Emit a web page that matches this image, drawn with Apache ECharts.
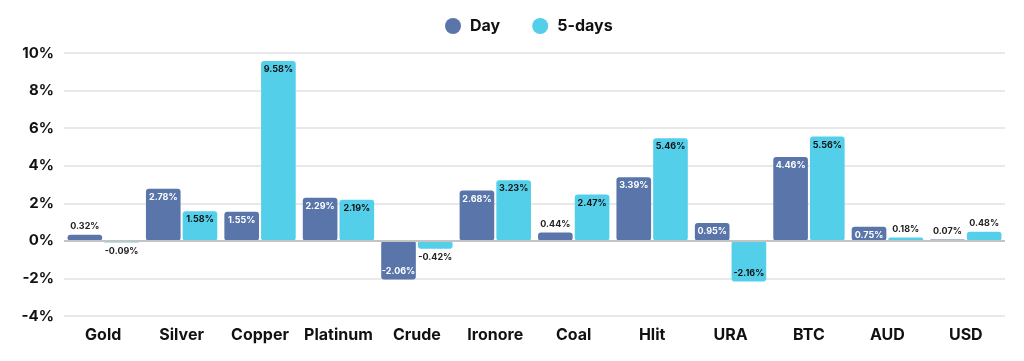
<!DOCTYPE html>
<html><head><meta charset="utf-8">
<script src="https://cdn.jsdelivr.net/npm/echarts@6/dist/echarts.min.js"></script>
<style>html,body{margin:0;padding:0;background:#fff}#c{width:1024px;height:361px}</style>
</head><body><div id="c"></div>
<script>
var categories = ['Gold','Silver','Copper','Platinum','Crude','Ironore','Coal','Hlit','URA','BTC','AUD','USD'];
var dayValues = [0.32, 2.78, 1.55, 2.29, -2.06, 2.68, 0.44, 3.39, 0.95, 4.46, 0.75, 0.07];
var fiveDayValues = [-0.09, 1.58, 9.58, 2.19, -0.42, 3.23, 2.47, 5.46, -2.16, 5.56, 0.18, 0.48];
var seriesNames = ['Day', '5-days'];
var FONT = 'Inter, "Open Sans", sans-serif';
var DAY_COLOR = '#5a75aa', FIVE_COLOR = '#54cfea';

function items(vals, insideColor) {
  return vals.map(function (v) {
    var small = Math.abs(v) < 0.6;
    var pos = v >= 0 ? (small ? 'top' : 'insideTop') : (small ? 'bottom' : 'insideBottom');
    return { value: v, label: { position: pos, color: small ? '#222' : insideColor } };
  });
}
var chart = echarts.init(document.getElementById('c'));
var labelBase = { show: true, fontFamily: FONT, fontWeight: 'bold', fontSize: 9, distance: 4,
  formatter: function (p) { return p.value.toFixed(2) + '%'; } };
chart.setOption({
  animation: false,
  legend: { top: 13, left: 440, icon: 'circle', itemWidth: 16, itemHeight: 16, itemGap: 32,
    textStyle: { fontFamily: FONT, fontWeight: 'bold', fontSize: 16, color: '#111', padding: [0, 0, 0, 4] }, data: seriesNames },
  grid: { left: 64, right: 19, top: 53, bottom: 45 },
  xAxis: { type: 'category', data: categories,
    axisLine: { show: false }, axisTick: { show: false },
    axisLabel: { interval: 0, fontFamily: FONT, fontWeight: 'bold', fontSize: 16, color: '#111', margin: 11 } },
  yAxis: { type: 'value', min: -4, max: 10, interval: 2,
    axisLabel: { formatter: '{value}%', fontFamily: FONT, fontWeight: 'bold', fontSize: 15, color: '#111', margin: 10 },
    splitLine: { lineStyle: { color: '#e2e2e2', width: 1.5 } } },
  series: [
    { name: seriesNames[0], type: 'bar', data: items(dayValues, '#fff'), barGap: '6%', barCategoryGap: '9%',
      itemStyle: { color: DAY_COLOR, borderRadius: 3 }, label: labelBase },
    { name: seriesNames[1], type: 'bar', data: items(fiveDayValues, '#111'),
      itemStyle: { color: FIVE_COLOR, borderRadius: 3 }, label: labelBase,
      markLine: { silent: true, symbol: 'none', label: { show: false }, lineStyle: { color: '#c4c4c4', width: 2, type: 'solid' }, data: [{ yAxis: 0 }] } }
  ]
});
</script></body></html>
